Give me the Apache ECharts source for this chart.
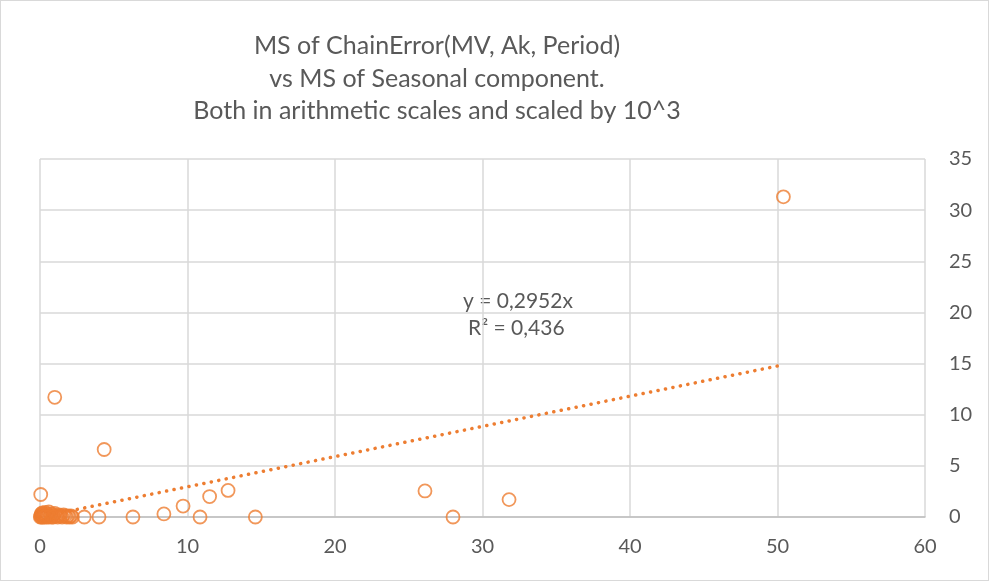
<!DOCTYPE html>
<html>
<head>
<meta charset="utf-8">
<script src="https://cdn.jsdelivr.net/npm/echarts@6/dist/echarts.min.js"></script>
<style>
  html, body { margin: 0; padding: 0; background: #fff; }
  #main { width: 989px; height: 581px; box-sizing: border-box; border: 1px solid #d9d9d9; }
</style>
</head>
<body>
<div id="main"></div>
<script>
// seasonal component MS (x) vs ChainError MS (y), both x 10^3
var msSeasonal = [
  0.02, 0.05, 0.08, 0.1, 0.12, 0.15, 0.18, 0.2, 0.25, 0.3, 0.35, 0.4, 0.45, 0.5,
  0.55, 0.6, 0.7, 0.75, 0.8, 0.9, 1.0, 1.1, 1.2, 1.3, 1.4, 1.5, 1.6, 1.7, 1.8,
  1.9, 2.0, 2.1, 2.2, 0.3, 0.6, 0.9,
  0.05, 1.0, 4.35, 50.4, 3.0, 4.0, 6.3, 8.4, 9.7, 10.85, 11.5, 12.75, 14.6,
  26.1, 28.0, 31.8
]
var msChainError = [
  0.0, 0.1, 0.3, 0.0, 0.2, 0.4, 0.1, 0.0, 0.3, 0.2, 0.45, 0.1, 0.0, 0.3,
  0.2, 0.5, 0.1, 0.3, 0.0, 0.2, 0.35, 0.1, 0.0, 0.2, 0.1, 0.0, 0.2, 0.1, 0.0,
  0.1, 0.0, 0.1, 0.0, 0.0, 0.0, 0.0,
  2.2, 11.7, 6.6, 31.3, 0.0, 0.0, 0.0, 0.3, 1.07, 0.0, 2.0, 2.6, 0.0,
  2.55, 0.0, 1.7
]
// linear trendline through origin, endpoints
var trendX = [0, 50.2]
var trendY = [0, 14.82]

var xTicks = [0, 60, 10]
var yTicks = [0, 35, 5]

var points = msSeasonal.map(function (x, i) { return [x, msChainError[i]] })
var trend = trendX.map(function (x, i) { return [x, trendY[i]] })

var chart = echarts.init(document.getElementById('main'), null, { renderer: 'canvas' })
var font = 'Lato, "Open Sans", sans-serif'

chart.setOption({
  animation: false,
  textStyle: { fontFamily: font },
  grid: { left: 39, right: 63, top: 158, bottom: 63 },
  title: {
    text: 'MS of ChainError(MV, Ak, Period)\nvs MS of Seasonal component.\nBoth in arithmetic scales and scaled by 10^3',
    left: 436,
    top: 29,
    padding: 0,
    textAlign: 'center',
    textStyle: { fontFamily: font, fontSize: 25, fontWeight: 'normal', color: '#595959', lineHeight: 32.5 }
  },
  xAxis: {
    type: 'value',
    min: xTicks[0], max: xTicks[1], interval: xTicks[2],
    axisLine: { show: true, onZero: false, lineStyle: { color: '#bfbfbf', width: 1.5 } },
    axisTick: { show: false },
    axisLabel: { color: '#595959', fontSize: 20, margin: 20, fontFamily: font },
    splitLine: { show: true, lineStyle: { color: '#d9d9d9', width: 1.5 } }
  },
  yAxis: {
    type: 'value',
    position: 'right',
    min: yTicks[0], max: yTicks[1], interval: yTicks[2],
    axisLine: { show: false },
    axisTick: { show: false },
    axisLabel: { color: '#595959', fontSize: 20, margin: 24, fontFamily: font },
    splitLine: { show: true, lineStyle: { color: '#d9d9d9', width: 1.5 } }
  },
  graphic: [
    { type: 'text', left: 462, top: 290, style: { text: 'y = 0,2952x', fill: '#595959', font: '21px ' + font } },
    { type: 'text', left: 467, top: 317, style: { text: 'R² = 0,436', fill: '#595959', font: '21px ' + font } }
  ],
  series: [
    {
      type: 'line',
      data: trend,
      showSymbol: false,
      symbol: 'none',
      lineStyle: { color: '#ed7d31', width: 3.5, type: [0.1, 7.5], cap: 'round' },
      z: 1
    },
    {
      type: 'scatter',
      data: points,
      symbol: 'circle',
      symbolSize: 13,
      itemStyle: { color: 'rgba(255,255,255,0)', borderColor: '#ed7d31', borderWidth: 1.8 },
      z: 2
    }
  ]
})
</script>
</body>
</html>
